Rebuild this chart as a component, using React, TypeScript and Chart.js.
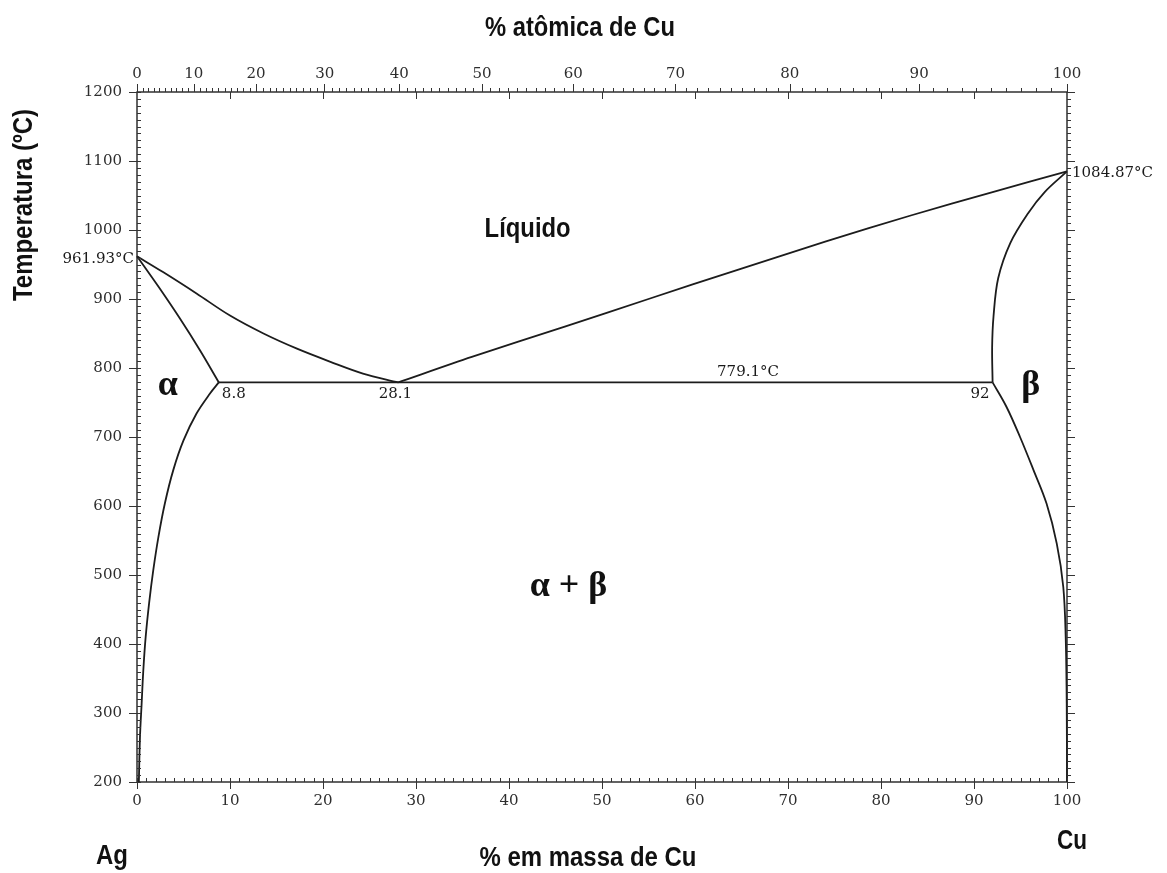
import React, { useEffect, useRef } from 'react';
import { Chart, registerables } from 'chart.js';

Chart.register(...registerables);

// ---- axis data ----
const MASS_TICKS = [0, 10, 20, 30, 40, 50, 60, 70, 80, 90, 100];
const TEMP_TICKS = [200, 300, 400, 500, 600, 700, 800, 900, 1000, 1100, 1200];
const ATOMIC_TICK_LABELS = ['0', '10', '20', '30', '40', '50', '60', '70', '80', '90', '100'];
// positions of the atomic-% labels on the mass-% scale
const ATOMIC_TICK_POS = [0, 6.1, 12.8, 20.2, 28.2, 37.1, 46.9, 57.9, 70.2, 84.1, 100];

// ---- phase boundaries (mass % Cu, °C) ----
const liquidusAgX = [0, 2.8, 6.4, 10.0, 13.6, 17.2, 20.8, 24.3, 28.1];
const liquidusAgY = [961.93, 939, 908, 876, 850, 828, 809, 792, 779.1];
const solidusAgX = [0, 2.3, 4.6, 6.8, 8.8];
const solidusAgY = [961.93, 918, 872, 825, 779.1];
const solvusAgX = [8.8, 7.85, 6.4, 5.0, 3.9, 3.0, 2.3, 1.75, 1.3, 0.93, 0.68, 0.5, 0.32, 0.2];
const solvusAgY = [779.1, 763, 734, 695, 652, 604, 555, 507, 459, 410, 362, 314, 265, 200];
const liquidusCuX = [28.1, 36, 46, 55, 64.5, 74, 83.2, 92, 100];
const liquidusCuY = [779.1, 816, 860, 900, 942, 983, 1021, 1055, 1084.87];
const solidusCuX = [92, 91.95, 92.1, 92.6, 93.9, 95.8, 97.6, 100];
const solidusCuY = [779.1, 830, 875, 930, 981, 1024, 1055, 1084.87];
const solvusCuX = [92, 93.5, 94.95, 96.4, 97.8, 98.9, 99.6, 99.86, 99.97, 100];
const solvusCuY = [779.1, 743.5, 700, 652, 603.5, 545.5, 482.6, 410, 314, 200];
const eutecticX = [8.8, 92];
const eutecticY = [779.1, 779.1];

const CURVES: { xs: number[]; ys: number[]; tension: number }[] = [
  { xs: liquidusAgX, ys: liquidusAgY, tension: 0.35 },
  { xs: solidusAgX, ys: solidusAgY, tension: 0.3 },
  { xs: solvusAgX, ys: solvusAgY, tension: 0.35 },
  { xs: liquidusCuX, ys: liquidusCuY, tension: 0.3 },
  { xs: solidusCuX, ys: solidusCuY, tension: 0.35 },
  { xs: solvusCuX, ys: solvusCuY, tension: 0.35 },
  { xs: eutecticX, ys: eutecticY, tension: 0 },
];

const atToWt = (a: number) => (100 * a * 63.546) / (a * 63.546 + (100 - a) * 107.868);

const TICK_FONT = '"DejaVu Serif", serif';
const BOLD_SANS = '"Liberation Sans", Arial, sans-serif';
const GREEK = '"Liberation Serif", "Times New Roman", serif';

const decorPlugin = {
  id: 'decor',
  afterDraw(chart: any) {
    const { ctx, chartArea: a, scales } = chart;
    const sx = scales.x;
    const sy = scales.y;
    const X = (v: number) => sx.getPixelForValue(v);
    const Y = (v: number) => sy.getPixelForValue(v);
    ctx.save();
    // frame
    ctx.strokeStyle = '#222';
    ctx.lineWidth = 1.4;
    ctx.strokeRect(a.left, a.top, a.right - a.left, a.bottom - a.top);

    ctx.lineWidth = 1;
    ctx.strokeStyle = '#333';
    ctx.beginPath();
    // bottom ticks
    for (let v = 0; v <= 100; v++) {
      const p = Math.round(X(v)) + 0.5;
      if (v % 10 === 0) {
        ctx.moveTo(p, a.bottom + 7);
        ctx.lineTo(p, a.bottom - 4);
      } else {
        ctx.moveTo(p, a.bottom);
        ctx.lineTo(p, a.bottom - 4);
      }
    }
    // top ticks (atomic %)
    for (let v = 0; v <= 100; v++) {
      const p = Math.round(X(atToWt(v))) + 0.5;
      const len = v % 10 === 0 ? 8 : 4;
      ctx.moveTo(p, a.top);
      ctx.lineTo(p, a.top - len);
    }
    // top downward ticks at mass % multiples of 10
    for (let v = 10; v < 100; v += 10) {
      const p = Math.round(X(v)) + 0.5;
      ctx.moveTo(p, a.top);
      ctx.lineTo(p, a.top + 7);
    }
    // left & right ticks
    for (let t = 200; t <= 1200; t += 10) {
      const p = Math.round(Y(t)) + 0.5;
      if (t % 100 === 0) {
        ctx.moveTo(a.left - 8, p);
        ctx.lineTo(a.left + 4, p);
        ctx.moveTo(a.right, p);
        ctx.lineTo(a.right + 8, p);
      } else {
        ctx.moveTo(a.left, p);
        ctx.lineTo(a.left + 4, p);
        ctx.moveTo(a.right, p);
        ctx.lineTo(a.right + 4, p);
      }
    }
    ctx.stroke();

    // small numeric annotations
    ctx.fillStyle = '#1a1a1a';
    ctx.font = `15px ${TICK_FONT}`;
    ctx.textBaseline = 'middle';
    ctx.textAlign = 'right';
    ctx.fillText('961.93°C', a.left - 3, Y(961.93) + 3);
    ctx.textAlign = 'left';
    ctx.fillText('1084.87°C', a.right + 5, Y(1084.87) + 2);
    ctx.textAlign = 'center';
    ctx.fillText('779.1°C', X(65.7), Y(779.1) - 10);
    ctx.textAlign = 'left';
    ctx.fillText('8.8', X(8.8) + 3, Y(779.1) + 12);
    ctx.textAlign = 'center';
    ctx.fillText('28.1', X(28.1) - 3, Y(779.1) + 12);
    ctx.textAlign = 'right';
    ctx.fillText('92', X(92) - 3, Y(779.1) + 12);

    // phase labels
    ctx.fillStyle = '#111';
    ctx.textAlign = 'center';
    ctx.font = `bold 27px ${BOLD_SANS}`;
    ctx.fillText('Líquido', X(42.0), Y(1000), 86);
    ctx.font = `bold 36px ${GREEK}`;
    ctx.fillText('α', X(3.3), Y(775));
    ctx.fillText('β', X(96.1), Y(774));
    ctx.fillText('α + β', X(46.4), Y(483));

    // axis titles
    ctx.font = `bold 27px ${BOLD_SANS}`;
    ctx.fillText('% atômica de Cu', 580, 29, 190);
    ctx.fillText('% em massa de Cu', 588, 859, 217);
    ctx.fillText('Ag', 112, 857, 32);
    ctx.fillText('Cu', 1072, 842, 30);
    ctx.save();
    ctx.translate(25, 205);
    ctx.rotate(-Math.PI / 2);
    ctx.fillText('Temperatura (ºC)', 0, 0, 192);
    ctx.restore();

    ctx.restore();
  },
};

export default function App() {
  const ref = useRef<HTMLCanvasElement | null>(null);
  useEffect(() => {
    if (!ref.current) return;
    const tickFont = { family: TICK_FONT, size: 15 };
    const chart = new Chart(ref.current, {
      type: 'scatter',
      data: {
        datasets: CURVES.map((c) => ({
          data: c.xs.map((x, i) => ({ x, y: c.ys[i] })),
          showLine: true,
          borderColor: '#1c1c1c',
          borderWidth: 1.8,
          pointRadius: 0,
          tension: c.tension,
          capBezierPoints: false,
          clip: 6,
        })),
      },
      options: {
        responsive: false,
        animation: false,
        events: [],
        elements: { line: { capBezierPoints: false } },
        layout: { padding: { left: 0, right: 100, top: 0, bottom: 0 } },
        plugins: { legend: { display: false }, tooltip: { enabled: false } },
        scales: {
          x: {
            type: 'linear',
            position: 'bottom',
            min: 0,
            max: 100,
            afterBuildTicks: (s: any) => {
              s.ticks = MASS_TICKS.map((v) => ({ value: v }));
            },
            afterFit: (s: any) => {
              s.height = 873 - 782;
            },
            ticks: {
              font: tickFont,
              color: '#2e2e2e',
              padding: 10,
              maxRotation: 0,
              callback: (v: any) => String(v),
            },
            grid: { display: false, drawTicks: false },
            border: { display: false },
          },
          xTop: {
            type: 'linear',
            position: 'top',
            min: 0,
            max: 100,
            afterBuildTicks: (s: any) => {
              s.ticks = ATOMIC_TICK_POS.map((v) => ({ value: v }));
            },
            afterFit: (s: any) => {
              s.height = 92;
            },
            ticks: {
              font: tickFont,
              color: '#2e2e2e',
              padding: 9,
              maxRotation: 0,
              callback: (_v: any, i: number) => ATOMIC_TICK_LABELS[i],
            },
            grid: { display: false, drawTicks: false },
            border: { display: false },
          },
          y: {
            type: 'linear',
            position: 'left',
            min: 200,
            max: 1200,
            afterBuildTicks: (s: any) => {
              s.ticks = TEMP_TICKS.map((v) => ({ value: v }));
            },
            afterFit: (s: any) => {
              s.width = 137;
            },
            ticks: {
              font: tickFont,
              color: '#2e2e2e',
              padding: 15,
              callback: (v: any) => String(v),
            },
            grid: { display: false, drawTicks: false },
            border: { display: false },
          },
        },
      },
      plugins: [decorPlugin],
    });
    return () => chart.destroy();
  }, []);
  return (
    <div style={{ position: 'absolute', left: 0, top: 0, width: 1167, height: 873, background: '#fff' }}>
      <canvas ref={ref} width={1167} height={873} style={{ display: 'block' }} />
    </div>
  );
}
